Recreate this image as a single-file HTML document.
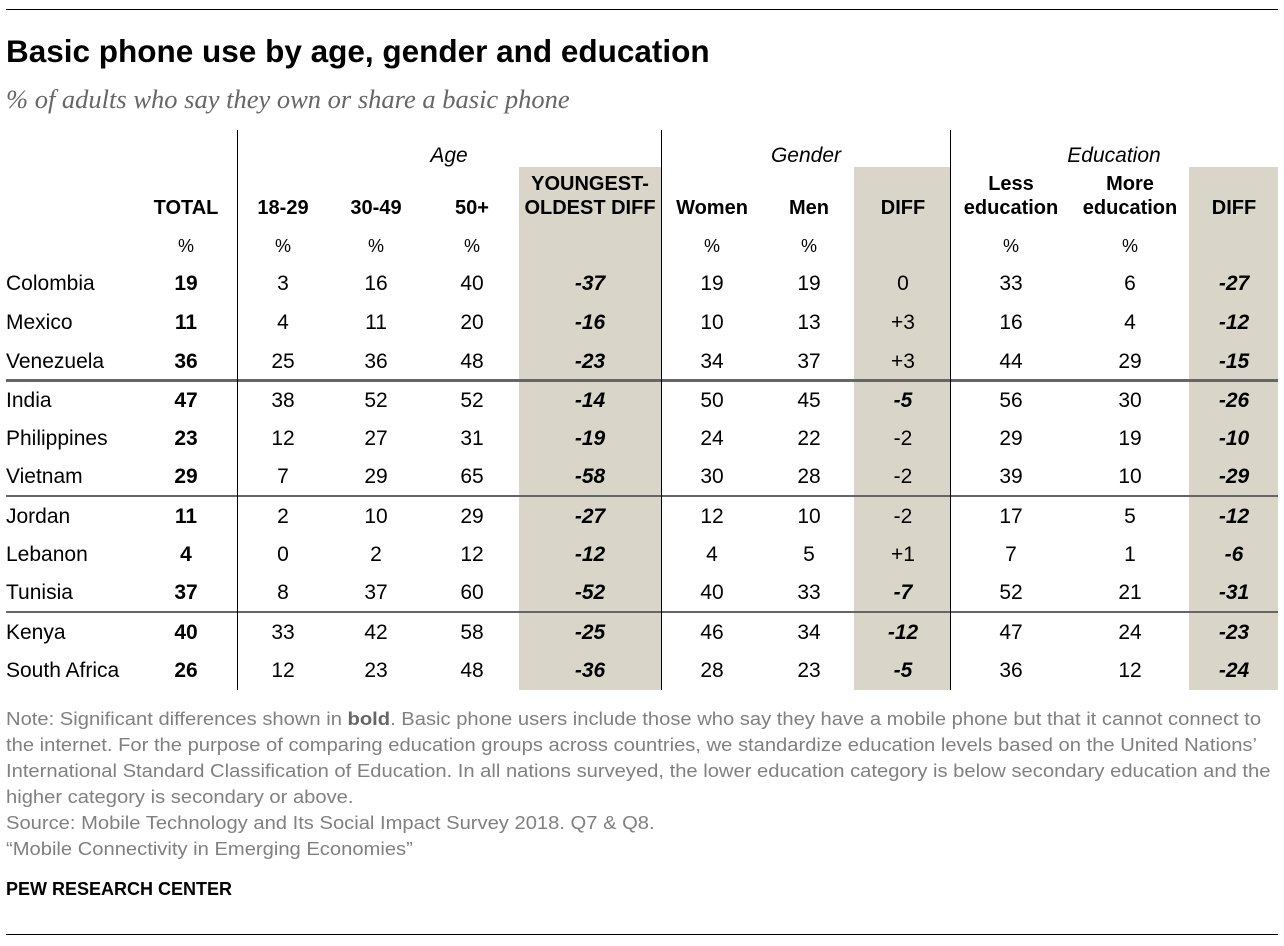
<!DOCTYPE html>
<html><head><meta charset="utf-8">
<style>
body{margin:0;width:1284px;height:946px;background:#fff;position:relative;overflow:hidden;font-family:"Liberation Sans",sans-serif;color:#000}
.a{position:absolute;white-space:nowrap}
.c{transform:translateX(-50%);text-align:center}
.cell{font-size:21px;line-height:24px}
.hd{font-weight:bold;font-size:20px;line-height:24px}
.note{position:absolute;left:6px;font-family:"Liberation Sans",sans-serif;font-size:18.5px;color:#808080;white-space:nowrap;line-height:26px;transform-origin:0 0;transform:scaleX(1.09)}
</style></head><body>
<div class="a" style="left:6px;top:9px;width:1272px;height:1px;background:#000"></div>
<div class="a" style="left:6px;top:33px;font-size:31.5px;font-weight:bold">Basic phone use by age, gender and education</div>
<div class="a" style="left:6px;top:84px;font-size:26.5px;font-style:italic;color:#666;font-family:'Liberation Serif',serif">% of adults who say they own or share a basic phone</div>

<div class="a" style="left:519px;top:167px;width:142px;height:523px;background:#d9d6c9"></div>
<div class="a" style="left:854px;top:167px;width:96px;height:523px;background:#d9d6c9"></div>
<div class="a" style="left:1189px;top:167px;width:89px;height:523px;background:#d9d6c9"></div>

<div id="tbl"></div>

<div class="a" style="left:237px;top:130px;width:1px;height:560px;background:#000"></div>
<div class="a" style="left:661px;top:130px;width:1px;height:560px;background:#000"></div>
<div class="a" style="left:950px;top:130px;width:1px;height:560px;background:#000"></div>

<div class="a c cell" style="left:449px;top:144px;font-style:italic">Age</div>
<div class="a c cell" style="left:806px;top:144px;font-style:italic">Gender</div>
<div class="a c cell" style="left:1114px;top:144px;font-style:italic">Education</div>

<div class="note" style="top:706px">Note: Significant differences shown in <b style="color:#666">bold</b>. Basic phone users include those who say they have a mobile phone but that it cannot connect to<br>the internet. For the purpose of comparing education groups across countries, we standardize education levels based on the United Nations’<br>International Standard Classification of Education. In all nations surveyed, the lower education category is below secondary education and the<br>higher category is secondary or above.<br>Source: Mobile Technology and Its Social Impact Survey 2018. Q7 &amp; Q8.<br>“Mobile Connectivity in Emerging Economies”</div>
<div class="a" style="left:6px;top:879px;font-size:18px;font-weight:bold">PEW RESEARCH CENTER</div>
<div class="a" style="left:6px;top:934px;width:1272px;height:1px;background:#000"></div>

<script>
const countries=["Colombia","Mexico","Venezuela","India","Philippines","Vietnam","Jordan","Lebanon","Tunisia","Kenya","South Africa"];
const total=["19","11","36","47","23","29","11","4","37","40","26"];
const age1829=["3","4","25","38","12","7","2","0","8","33","12"];
const age3049=["16","11","36","52","27","29","10","2","37","42","23"];
const age50=["40","20","48","52","31","65","29","12","60","58","48"];
const ageDiff=["-37","-16","-23","-14","-19","-58","-27","-12","-52","-25","-36"];
const women=["19","10","34","50","24","30","12","4","40","46","28"];
const men=["19","13","37","45","22","28","10","5","33","34","23"];
const genDiff=["0","+3","+3","-5","-2","-2","-2","+1","-7","-12","-5"];
const genSig=[false,false,false,true,false,false,false,false,true,true,true];
const lessEdu=["33","16","44","56","29","39","17","7","52","47","36"];
const moreEdu=["6","4","29","30","19","10","5","1","21","24","12"];
const eduDiff=["-27","-12","-15","-26","-10","-29","-12","-6","-31","-23","-24"];
const rowTops=[272,311,350,389,427,465,505,543,581,621,659];
const tbl=document.getElementById('tbl');
function put(txt,x,y,cls,style,name){
  const d=document.createElement('div');
  d.className='a cell'+(x!==null?' c':'')+(cls?' '+cls:'');
  d.style.left=(x!==null?x:6)+'px';d.style.top=y+'px';
  if(style)d.style.cssText+=style;
  d.innerHTML=txt;
  
  
  tbl.appendChild(d);
}
put('TOTAL',186,196,'hd','', 'header-total');
put('18-29',283,196,'hd','', 'header-18-29');
put('30-49',376,196,'hd','', 'header-30-49');
put('50+',472,196,'hd','', 'header-50plus');
put('YOUNGEST-<br>OLDEST DIFF',590,172,'hd','line-height:24px', 'header-age-diff');
put('Women',712,196,'hd','', 'header-women');
put('Men',809,196,'hd','', 'header-men');
put('DIFF',903,196,'hd','', 'header-gender-diff');
put('Less<br>education',1011,172,'hd','', 'header-less-education');
put('More<br>education',1130,172,'hd','', 'header-more-education');
put('DIFF',1234,196,'hd','', 'header-edu-diff');
[186,283,376,472,712,809,1011,1130].forEach(x=>put('%',x,234,'','font-size:18px','percent-label'));
const bi='font-weight:bold;font-style:italic';
countries.forEach((c,i)=>{
  const y=rowTops[i];
  put(c,null,y,'','', 'country-label');
  put(total[i],186,y,'','font-weight:bold','total-value');
  put(age1829[i],283,y,'','','value-18-29');
  put(age3049[i],376,y,'','','value-30-49');
  put(age50[i],472,y,'','','value-50plus');
  put(ageDiff[i],590,y,'',bi,'age-diff-value');
  put(women[i],712,y,'','','women-value');
  put(men[i],809,y,'','','men-value');
  put(genDiff[i],903,y,'',genSig[i]?bi:'','gender-diff-value');
  put(lessEdu[i],1011,y,'','','less-education-value');
  put(moreEdu[i],1130,y,'','','more-education-value');
  put(eduDiff[i],1234,y,'',bi,'edu-diff-value');
});
[[379,3,'#666'],[495,2,'#666'],[611,2,'#666']].forEach(s=>{
  const d=document.createElement('div');
  d.className='a';
  d.style.cssText='left:6px;width:1272px;top:'+s[0]+'px;height:'+s[1]+'px;background:'+s[2];
  
  
  tbl.appendChild(d);
});
</script>
</body></html>
